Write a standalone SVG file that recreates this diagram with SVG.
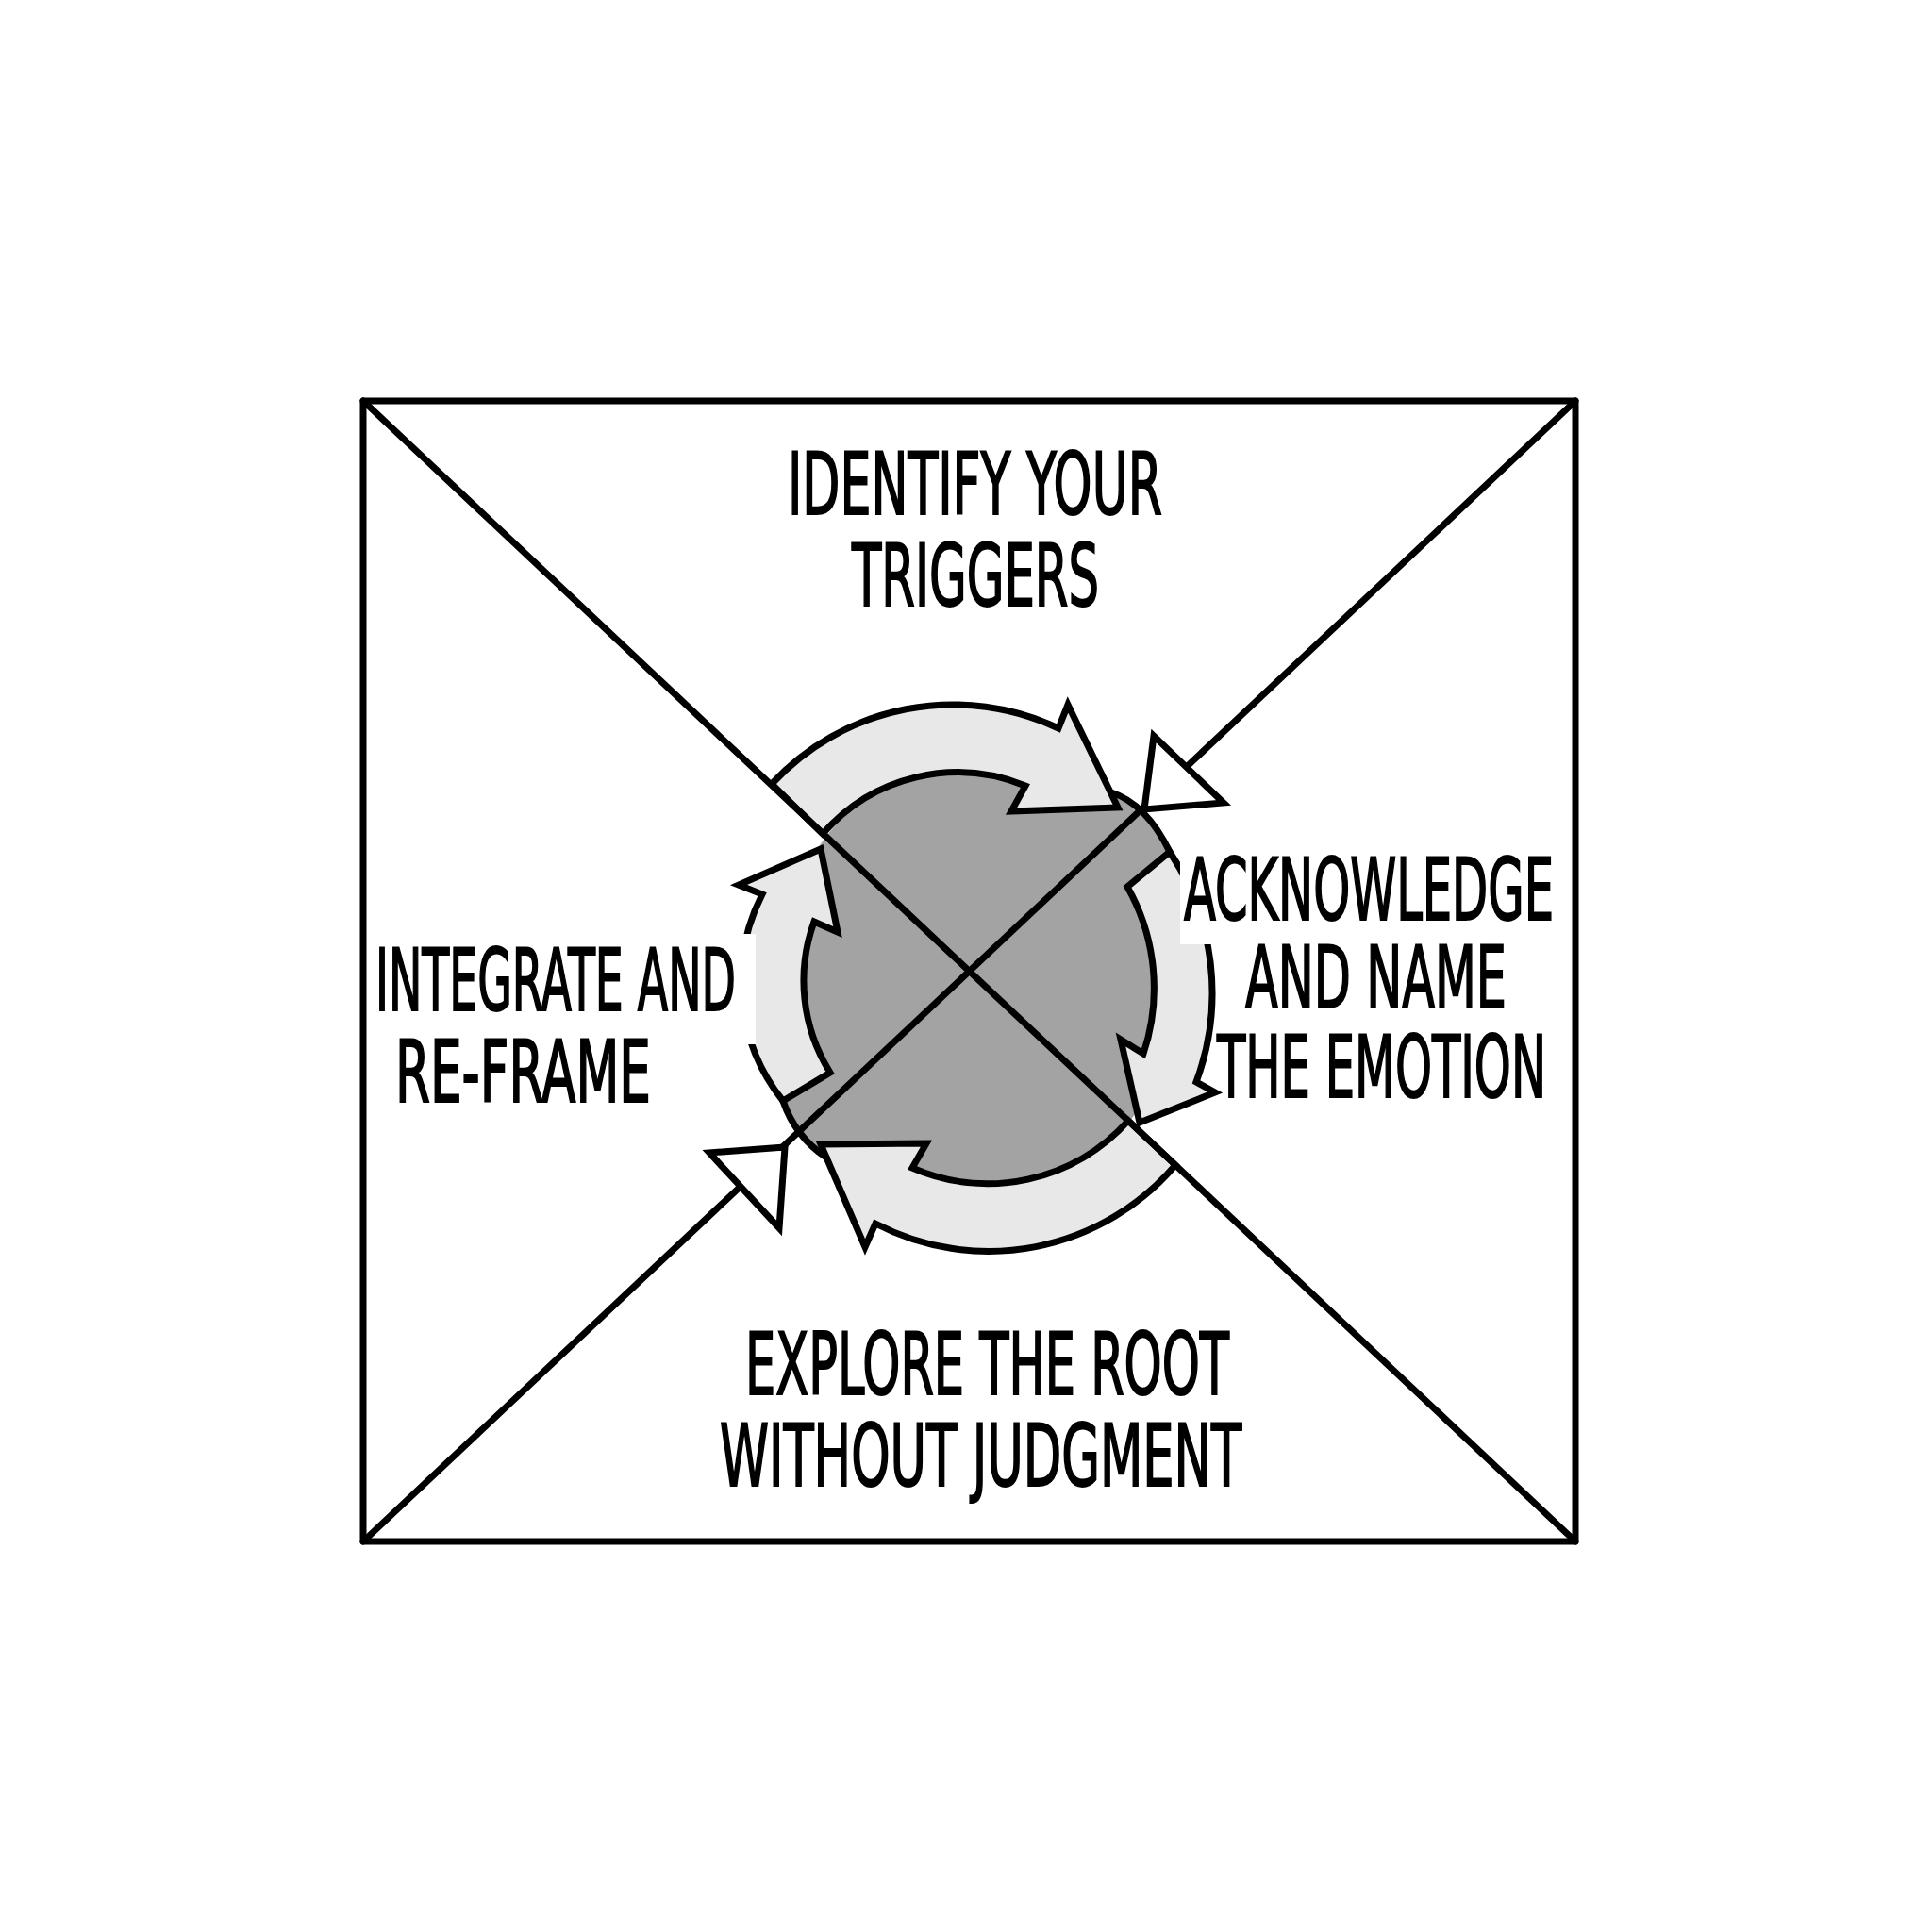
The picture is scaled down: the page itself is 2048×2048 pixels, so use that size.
<svg xmlns="http://www.w3.org/2000/svg" width="2048" height="2048" viewBox="0 0 2048 2048">
<defs>
<style>
.ln{stroke:#000;stroke-width:7;fill:none;stroke-linecap:round;stroke-linejoin:round}
.arr{fill:#e8e8e8;stroke:#000;stroke-width:7;stroke-linejoin:miter;stroke-miterlimit:10}
.dark{fill:#a3a3a3}
.head{fill:#fff;stroke:#000;stroke-width:7;stroke-linejoin:miter;stroke-miterlimit:10}
.mask{fill:#fff}
.lbl{font-family:'Liberation Sans Narrow','DejaVu Sans Condensed','Liberation Sans',sans-serif;font-size:90px;fill:#000;stroke:#000;stroke-width:2}
</style>
</defs>
<rect width="2048" height="2048" fill="#fff"/>
<g id="cycle">
  <ellipse class="dark" cx="1035" cy="1040" rx="210" ry="235"/>
  <path class="dark" d="M1035,1040 L1150,850 L1178,840 Q1215,852 1240,903 L1218,922 Z"/>
  <path class="dark" d="M1035,1040 L880,1137 L830,1167 Q843,1205 876,1227 L900,1225 Z"/>
  <path id="arrow-top" class="arr" d="M818,831 A262,262 0 0 1 1122,772 L1132,747 L1185,856 L1072,860 L1087,833 A189,189 0 0 0 872,884 Z"/>
  <path id="arrow-right" class="arr" d="M1240,903 A271,271 0 0 1 1268,1147 L1288,1158 L1208,1190 L1188,1102 L1212,1117 A218,218 0 0 0 1195,940 Z"/>
  <path id="arrow-bottom" class="arr" d="M1246,1235 A260,260 0 0 1 928,1297 L917,1322 L870,1213 L982,1212 L967,1238 A200,200 0 0 0 1196,1188 Z"/>
  <path id="arrow-left" class="arr" d="M830,1167 A203,203 0 0 1 808,948 L783,938 L870,900 L888,988 L863,977 A183,183 0 0 0 880,1137 Z"/>
  <path class="ln" d="M1178,840 Q1215,852 1240,903"/>
  <path class="ln" d="M830,1167 Q843,1205 876,1227"/>
  <rect class="mask" x="400" y="990" width="401" height="117"/>
  <rect class="mask" x="1251" y="888" width="410" height="113"/>
</g>
<g id="frame">
  <rect class="ln" x="385" y="425" width="1285" height="1209"/>
</g>
<g id="connectors">
  <line class="ln" x1="385" y1="425" x2="1670" y2="1634"/>
  <line class="ln" x1="1670" y1="425" x2="385" y2="1634"/>
  <path class="head" d="M1213,858 L1223,780 L1297,851 Z"/>
  <path class="head" d="M832,1216 L752,1222 L826,1302 Z"/>
</g>
<g id="node-identify">
  <text class="lbl" x="835" y="545" textLength="397" lengthAdjust="spacingAndGlyphs">IDENTIFY YOUR</text>
  <text class="lbl" x="903" y="642" textLength="262" lengthAdjust="spacingAndGlyphs">TRIGGERS</text>
</g>
<g id="node-acknowledge">
  <text class="lbl" x="1255" y="975" textLength="392" lengthAdjust="spacingAndGlyphs">ACKNOWLEDGE</text>
  <text class="lbl" x="1320" y="1068" textLength="277" lengthAdjust="spacingAndGlyphs">AND NAME</text>
  <text class="lbl" x="1290" y="1163" textLength="349" lengthAdjust="spacingAndGlyphs">THE EMOTION</text>
</g>
<g id="node-explore">
  <text class="lbl" x="790" y="1478" textLength="513" lengthAdjust="spacingAndGlyphs">EXPLORE THE ROOT</text>
  <text class="lbl" x="763" y="1575" textLength="553" lengthAdjust="spacingAndGlyphs">WITHOUT JUDGMENT</text>
</g>
<g id="node-integrate">
  <text class="lbl" x="398" y="1071" textLength="382" lengthAdjust="spacingAndGlyphs">INTEGRATE AND</text>
  <text class="lbl" x="419" y="1168" textLength="271" lengthAdjust="spacingAndGlyphs">RE-FRAME</text>
</g>
</svg>
